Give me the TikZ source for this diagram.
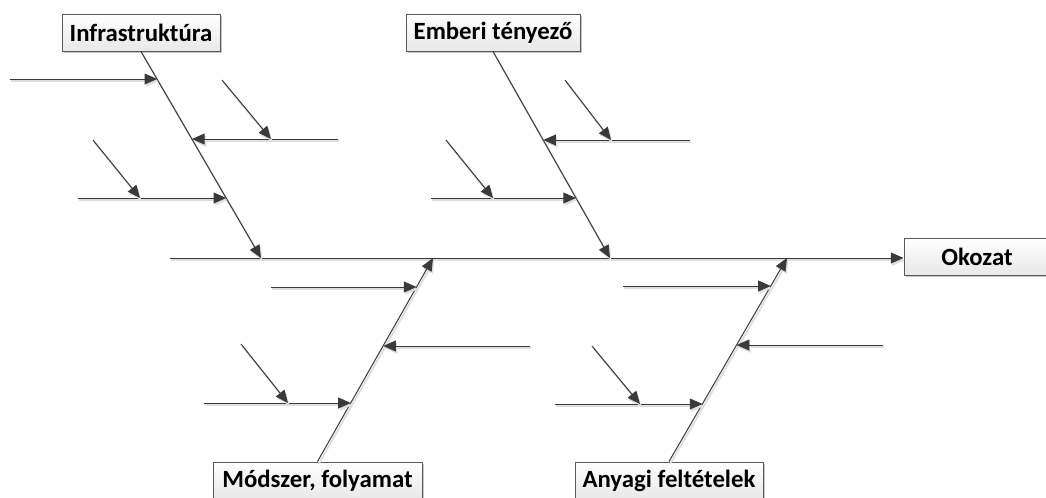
\documentclass[tikz,border=0pt]{standalone}
\usepackage{fontspec}
\setmainfont{Carlito}
\usetikzlibrary{arrows.meta,shadows}
\definecolor{ink}{HTML}{3A3A3A}
\definecolor{frame}{HTML}{5A5A5A}
\tikzset{
  cause/.style={draw=frame, line width=0.75pt, top color=white, bottom color=black!9,
    drop shadow={shadow xshift=1.6pt, shadow yshift=-1.6pt, fill=black!22, opacity=1},
    font=\bfseries\fontsize{18.6}{21}\selectfont, text=black, inner sep=0pt,
    minimum height=27.75pt},
  shade line/.style={preaction={draw=black!13, line width=1.4pt,
    transform canvas={shift={(1pt,-1.6pt)}}}},
  bone/.style={draw=ink, line width=0.75pt, shade line,
    -{Triangle[length=9.5pt,width=8.2pt]}},
  twig/.style={bone},
}
\begin{document}
\begin{tikzpicture}[x=0.75pt,y=-0.75pt]
\useasboundingbox (0,0) rectangle (1046,497);

% category and effect boxes
\node[cause, minimum width=118.5pt] (infra) at (141,32.5) {Infrastruktúra};
\node[cause, minimum width=130.5pt] (human) at (493,32.5) {Emberi tényező};
\node[cause, minimum width=156.75pt] (method) at (317.5,480.5) {Módszer, folyamat};
\node[cause, minimum width=141pt] (material) at (669,480.5) {Anyagi feltételek};
\node[cause, minimum width=109.5pt] (effect) at (977,256.5) {Okozat};

% spine
\coordinate (spineL) at (170,258);
\draw[bone] (spineL) -- (spineL -| effect.west);

% main bones meeting the spine
\coordinate (j1) at (261,258);
\coordinate (j2) at (610,258);
\coordinate (j3) at (433,258);
\coordinate (j4) at (787,258);
\draw[bone] (infra.south) -- (j1);
\draw[bone] (human.south) -- (j2);
\draw[bone] (method.north) -- (j3);
\draw[bone] (material.north) -- (j4);

% Infrastruktura: sub-causes
\coordinate (a1t) at (10,79);   \coordinate (a1h) at (157.2,79);
\coordinate (a2t) at (338,139); \coordinate (a2h) at (192,139);
\coordinate (a2d) at (222,80);  \coordinate (a2e) at (271,139);
\coordinate (a3t) at (78,198);  \coordinate (a3h) at (226.2,198);
\coordinate (a3d) at (93,140);  \coordinate (a3e) at (140,198);
\draw[twig] (a1t) -- (a1h);
\draw[twig] (a2t) -- (a2h);
\draw[twig] (a2d) -- (a2e);
\draw[twig] (a3t) -- (a3h);
\draw[twig] (a3d) -- (a3e);

% Emberi tenyezo: sub-causes
\coordinate (b2t) at (690,140); \coordinate (b2h) at (543.3,140);
\coordinate (b2d) at (565,80);  \coordinate (b2e) at (611,140);
\coordinate (b3t) at (431,198); \coordinate (b3h) at (576,198);
\coordinate (b3d) at (446,140); \coordinate (b3e) at (493,198);
\draw[twig] (b2t) -- (b2h);
\draw[twig] (b2d) -- (b2e);
\draw[twig] (b3t) -- (b3h);
\draw[twig] (b3d) -- (b3e);

% Modszer, folyamat: sub-causes
\coordinate (c1t) at (271,287); \coordinate (c1h) at (416.6,287);
\coordinate (c2t) at (530,346); \coordinate (c2h) at (383.2,346);
\coordinate (c3t) at (204,403); \coordinate (c3h) at (350.9,403);
\coordinate (c3d) at (241,344); \coordinate (c3e) at (288,403);
\draw[twig] (c1t) -- (c1h);
\draw[twig] (c2t) -- (c2h);
\draw[twig] (c3t) -- (c3h);
\draw[twig] (c3d) -- (c3e);

% Anyagi feltetelek: sub-causes
\coordinate (d1t) at (623,286); \coordinate (d1h) at (770.8,286);
\coordinate (d2t) at (883,345); \coordinate (d2h) at (736.6,345);
\coordinate (d3t) at (555,404); \coordinate (d3h) at (702.5,404);
\coordinate (d3d) at (592,346); \coordinate (d3e) at (640,404);
\draw[twig] (d1t) -- (d1h);
\draw[twig] (d2t) -- (d2h);
\draw[twig] (d3t) -- (d3h);
\draw[twig] (d3d) -- (d3e);
\end{tikzpicture}
\end{document}
